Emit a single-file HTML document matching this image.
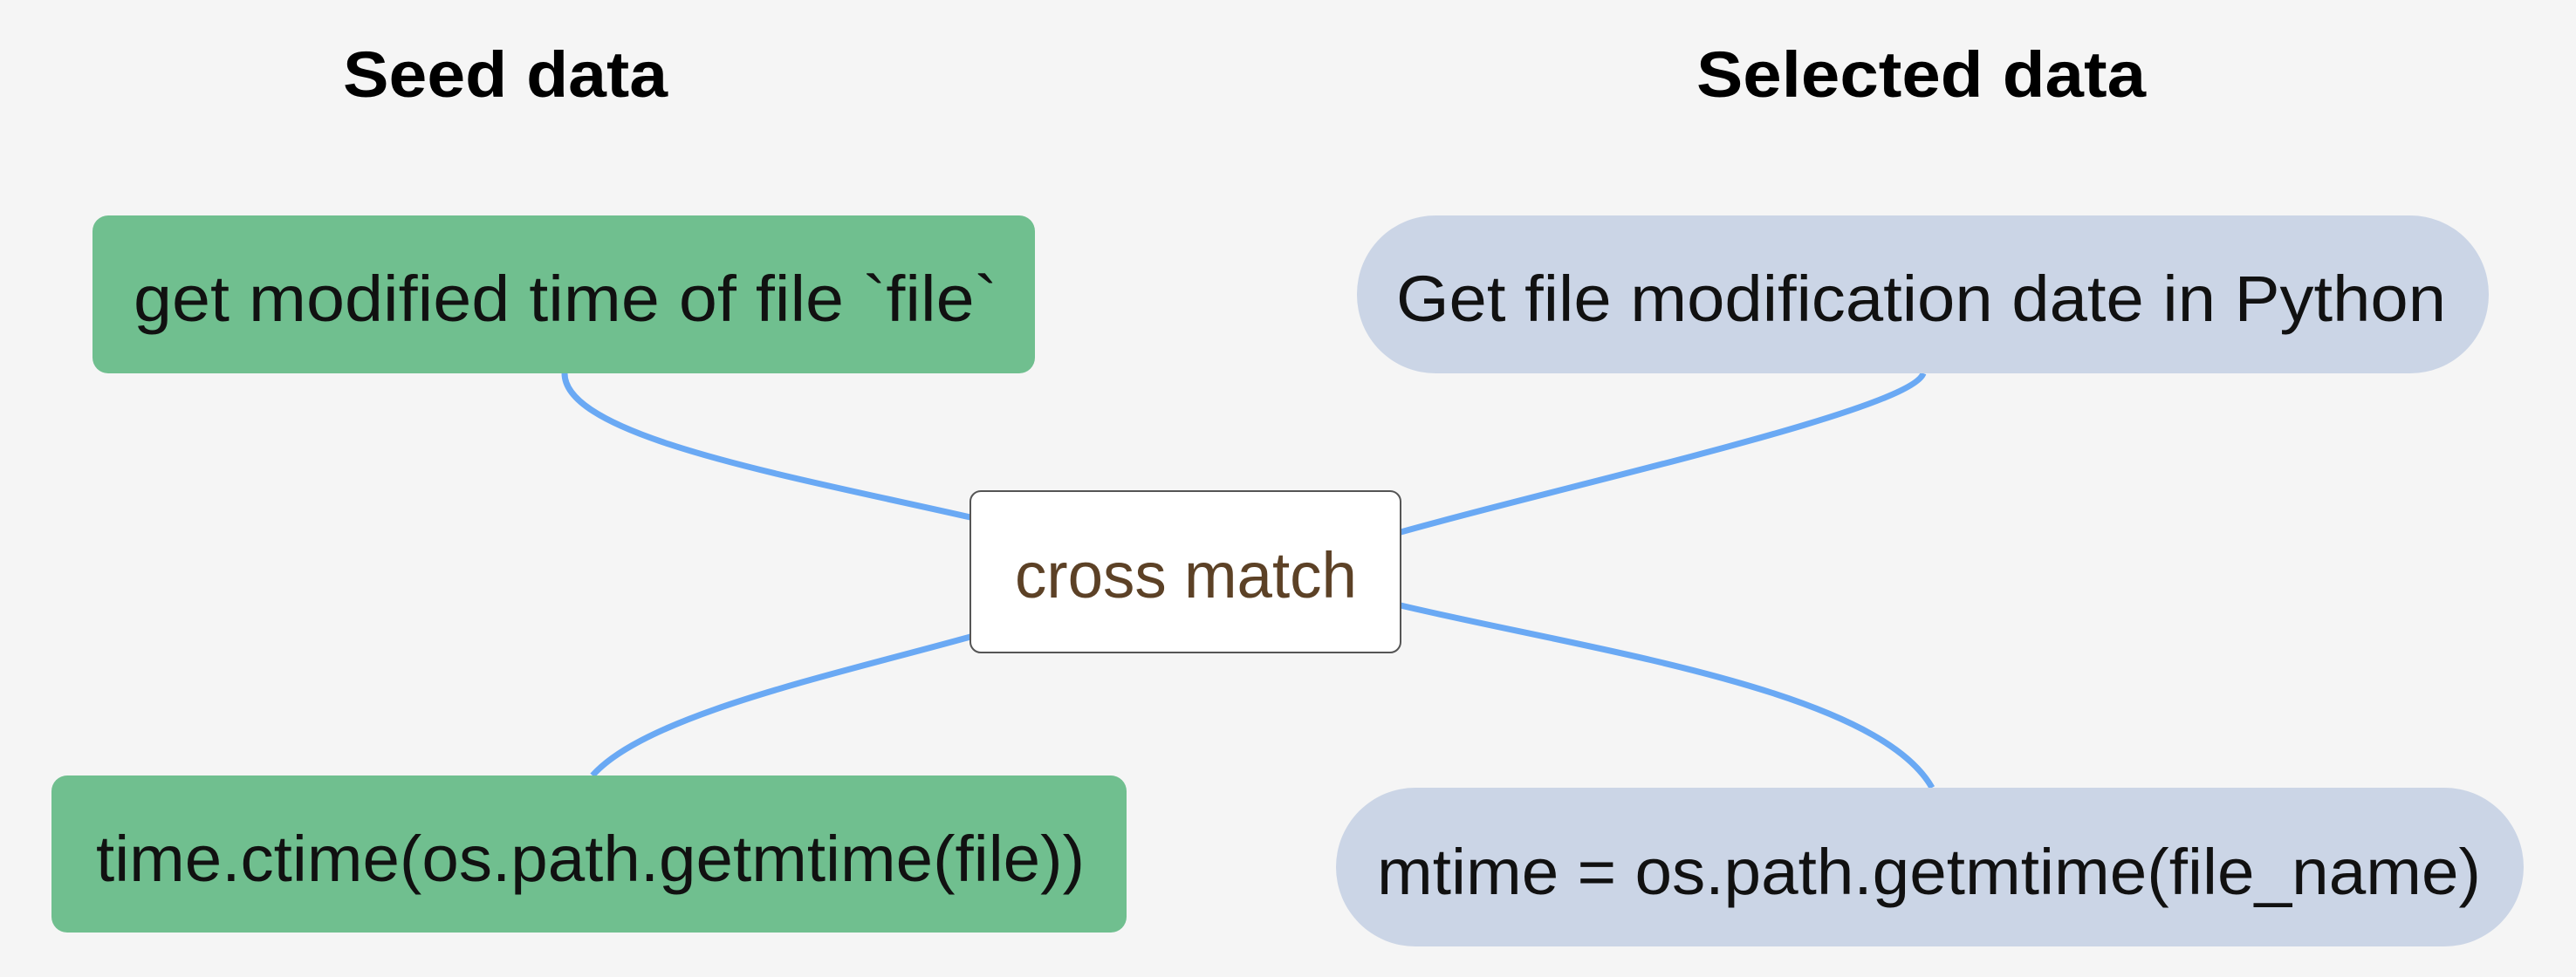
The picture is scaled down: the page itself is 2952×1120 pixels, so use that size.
<!DOCTYPE html>
<html><head><meta charset="utf-8"><style>
html,body{margin:0;padding:0;background:#f5f5f5;}
svg{display:block;}
</style></head><body>
<svg width="2952" height="1120" viewBox="0 0 2952 1120" xmlns="http://www.w3.org/2000/svg">
<rect width="2952" height="1120" fill="#f5f5f5"/>
<g fill="none" stroke="#6aa9f4" stroke-width="7">
<path d="M647 428 C 647 500, 900 545, 1112 593"/>
<path d="M679 889 C 740 820, 950 775, 1112 730"/>
<path d="M1605 610 C 1800 555, 2190 470, 2204 428"/>
<path d="M1605 694 C 1820 745, 2150 790, 2214 903"/>
</g>
<g font-family="'Liberation Sans', sans-serif">
<text x="393" y="111" font-size="74" font-weight="bold" fill="#000" textLength="372" lengthAdjust="spacingAndGlyphs">Seed data</text>
<text x="1944" y="111" font-size="74" font-weight="bold" fill="#000" textLength="515" lengthAdjust="spacingAndGlyphs">Selected data</text>
<rect x="106" y="247" width="1080" height="181" rx="18" fill="#70bf8f"/>
<text x="153" y="368" font-size="74" fill="#111" textLength="990" lengthAdjust="spacingAndGlyphs">get modified time of file `file`</text>
<rect x="59" y="889" width="1232" height="180" rx="18" fill="#70bf8f"/>
<text x="110" y="1010" font-size="74" fill="#111" textLength="1133" lengthAdjust="spacingAndGlyphs">time.ctime(os.path.getmtime(file))</text>
<rect x="1555" y="247" width="1297" height="181" rx="90" fill="#cbd5e6"/>
<text x="1600" y="368" font-size="74" fill="#111" textLength="1203" lengthAdjust="spacingAndGlyphs">Get file modification date in Python</text>
<rect x="1531" y="903" width="1361" height="182" rx="91" fill="#cbd5e6"/>
<text x="1578" y="1025" font-size="74" fill="#111" textLength="1265" lengthAdjust="spacingAndGlyphs">mtime = os.path.getmtime(file_name)</text>
<rect x="1112" y="563" width="493" height="185" rx="12" fill="#fff" stroke="#555" stroke-width="2"/>
<text x="1163" y="685" font-size="74" fill="#5c4126" textLength="392" lengthAdjust="spacingAndGlyphs">cross match</text>
</g>
</svg>
</body></html>
